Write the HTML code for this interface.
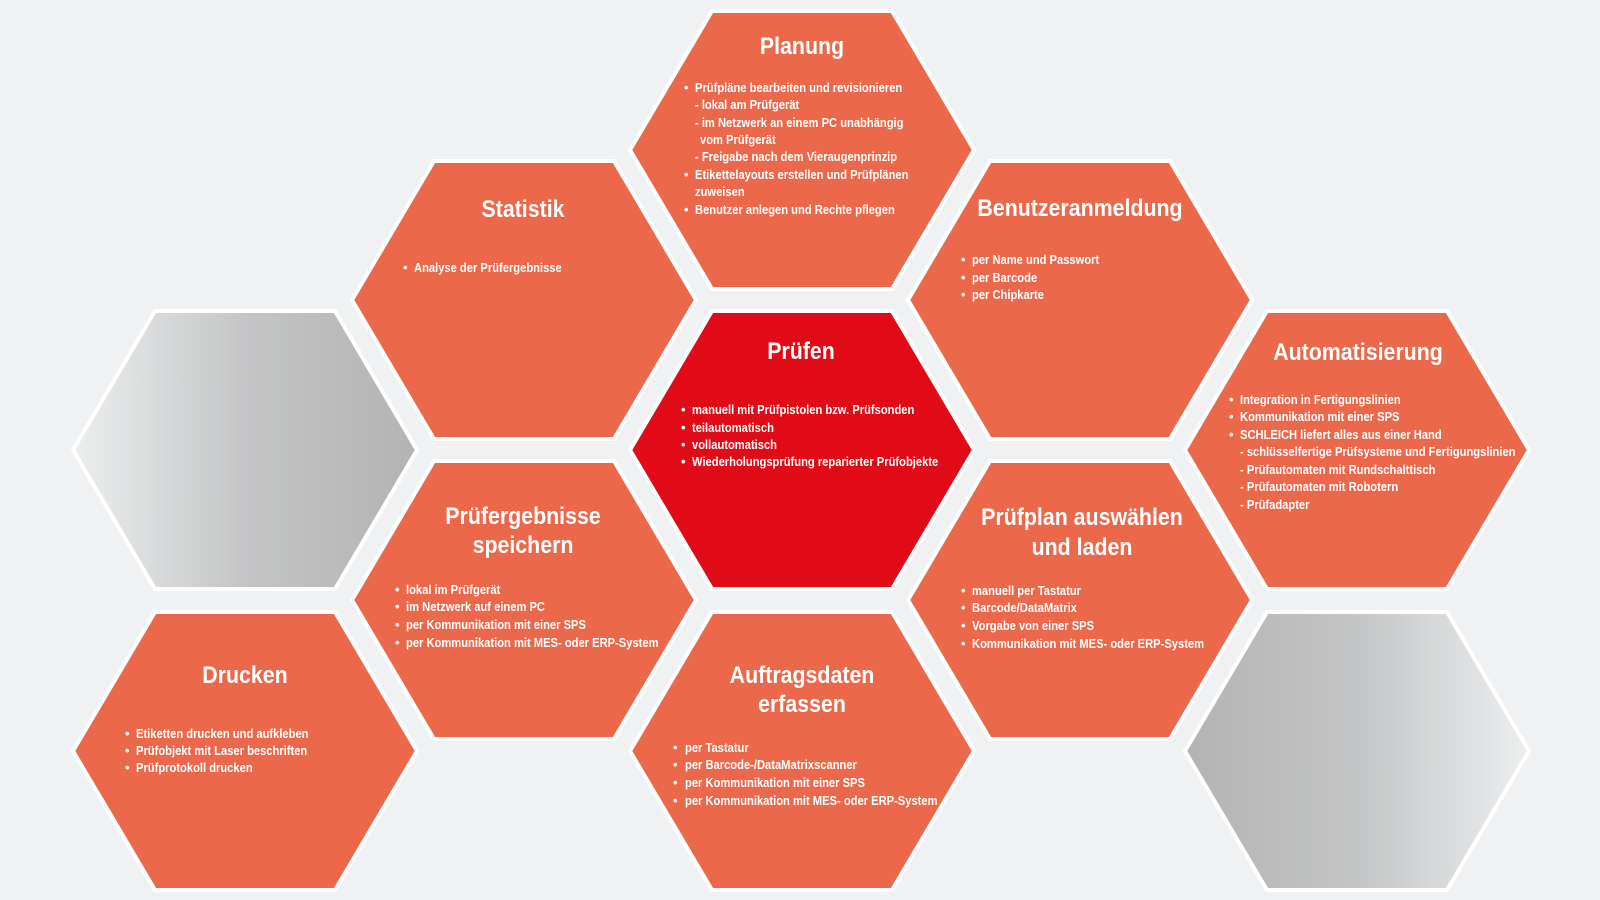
<!DOCTYPE html>
<html><head><meta charset="utf-8"><style>
html,body{margin:0;padding:0;background:#eff1f3;}
svg{display:block}
.t{font-family:"Liberation Sans Narrow","Liberation Sans",sans-serif;font-weight:bold;font-size:24px;fill:#fff;text-anchor:middle}
.b{font-family:"Liberation Sans Narrow","Liberation Sans",sans-serif;font-size:13px;fill:#fff;font-weight:bold}
</style></head><body>
<svg width="1600" height="900" viewBox="0 0 1600 900" xmlns="http://www.w3.org/2000/svg">
<defs>
<linearGradient id="gl" x1="0" x2="1" y1="0" y2="0"><stop offset="0" stop-color="#eceeef"/><stop offset="0.5" stop-color="#c4c5c6"/><stop offset="1" stop-color="#b3b3b3"/></linearGradient>
<linearGradient id="gr" x1="0" x2="1" y1="0" y2="0"><stop offset="0" stop-color="#b3b3b3"/><stop offset="0.5" stop-color="#c4c5c6"/><stop offset="1" stop-color="#eceeef"/></linearGradient>
<polygon id="h" points="-172,0 -90,-139 90,-139 172,0 90,139 -90,139"/>
</defs>
<rect width="1600" height="900" fill="#eff1f3"/>
<g stroke="#ffffff" stroke-width="4" stroke-linejoin="miter">
<use href="#h" x="802" y="150" fill="#ec684b"/>
<use href="#h" x="524" y="300" fill="#ec684b"/>
<use href="#h" x="1080" y="300" fill="#ec684b"/>
<use href="#h" x="245" y="450" fill="url(#gl)"/>
<use href="#h" x="802" y="450" fill="#e10a17"/>
<use href="#h" x="1357" y="450" fill="#ec684b"/>
<use href="#h" x="524" y="600" fill="#ec684b"/>
<use href="#h" x="1080" y="600" fill="#ec684b"/>
<use href="#h" x="245" y="751" fill="#ec684b"/>
<use href="#h" x="802" y="751" fill="#ec684b"/>
<use href="#h" x="1357" y="751" fill="url(#gr)"/>
</g>
<g stroke="none">
<g transform="translate(802,54) scale(.89,1)"><text class="t">Planung</text></g>
<text class="b" x="684" y="92">•</text><g transform="translate(695,92) scale(.86,1)"><text class="b">Prüfpläne bearbeiten und revisionieren</text></g>
<g transform="translate(695,109) scale(.86,1)"><text class="b">- lokal am Prüfgerät</text></g>
<g transform="translate(695,127) scale(.86,1)"><text class="b">- im Netzwerk an einem PC unabhängig</text></g>
<g transform="translate(700,144) scale(.86,1)"><text class="b">vom Prüfgerät</text></g>
<g transform="translate(695,161) scale(.86,1)"><text class="b">- Freigabe nach dem Vieraugenprinzip</text></g>
<text class="b" x="684" y="179">•</text><g transform="translate(695,179) scale(.86,1)"><text class="b">Etikettelayouts erstellen und Prüfplänen</text></g>
<g transform="translate(695,196) scale(.86,1)"><text class="b">zuweisen</text></g>
<text class="b" x="684" y="214">•</text><g transform="translate(695,214) scale(.86,1)"><text class="b">Benutzer anlegen und Rechte pflegen</text></g>

<g transform="translate(523,217) scale(.89,1)"><text class="t">Statistik</text></g>
<text class="b" x="403" y="272">•</text><g transform="translate(414,272) scale(.86,1)"><text class="b">Analyse der Prüfergebnisse</text></g>

<g transform="translate(1080,216) scale(.89,1)"><text class="t">Benutzeranmeldung</text></g>
<text class="b" x="961" y="264">•</text><g transform="translate(972,264) scale(.86,1)"><text class="b">per Name und Passwort</text></g>
<text class="b" x="961" y="282">•</text><g transform="translate(972,282) scale(.86,1)"><text class="b">per Barcode</text></g>
<text class="b" x="961" y="299">•</text><g transform="translate(972,299) scale(.86,1)"><text class="b">per Chipkarte</text></g>

<g transform="translate(801,359) scale(.89,1)"><text class="t">Prüfen</text></g>
<text class="b" x="681" y="414">•</text><g transform="translate(692,414) scale(.86,1)"><text class="b">manuell mit Prüfpistolen bzw. Prüfsonden</text></g>
<text class="b" x="681" y="432">•</text><g transform="translate(692,432) scale(.86,1)"><text class="b">teilautomatisch</text></g>
<text class="b" x="681" y="449">•</text><g transform="translate(692,449) scale(.86,1)"><text class="b">vollautomatisch</text></g>
<text class="b" x="681" y="466">•</text><g transform="translate(692,466) scale(.86,1)"><text class="b">Wiederholungsprüfung reparierter Prüfobjekte</text></g>

<g transform="translate(1358,360) scale(.89,1)"><text class="t">Automatisierung</text></g>
<text class="b" x="1229" y="404">•</text><g transform="translate(1240,404) scale(.86,1)"><text class="b">Integration in Fertigungslinien</text></g>
<text class="b" x="1229" y="421">•</text><g transform="translate(1240,421) scale(.86,1)"><text class="b">Kommunikation mit einer SPS</text></g>
<text class="b" x="1229" y="439">•</text><g transform="translate(1240,439) scale(.86,1)"><text class="b">SCHLEICH liefert alles aus einer Hand</text></g>
<g transform="translate(1240,456) scale(.86,1)"><text class="b">- schlüsselfertige Prüfsysteme und Fertigungslinien</text></g>
<g transform="translate(1240,474) scale(.86,1)"><text class="b">- Prüfautomaten mit Rundschalttisch</text></g>
<g transform="translate(1240,491) scale(.86,1)"><text class="b">- Prüfautomaten mit Robotern</text></g>
<g transform="translate(1240,509) scale(.86,1)"><text class="b">- Prüfadapter</text></g>

<g transform="translate(523,524) scale(.89,1)"><text class="t">Prüfergebnisse</text></g>
<g transform="translate(523,553) scale(.89,1)"><text class="t">speichern</text></g>
<text class="b" x="395" y="594">•</text><g transform="translate(406,594) scale(.86,1)"><text class="b">lokal im Prüfgerät</text></g>
<text class="b" x="395" y="611">•</text><g transform="translate(406,611) scale(.86,1)"><text class="b">im Netzwerk auf einem PC</text></g>
<text class="b" x="395" y="629">•</text><g transform="translate(406,629) scale(.86,1)"><text class="b">per Kommunikation mit einer SPS</text></g>
<text class="b" x="395" y="647">•</text><g transform="translate(406,647) scale(.86,1)"><text class="b">per Kommunikation mit MES- oder ERP-System</text></g>

<g transform="translate(1082,525) scale(.89,1)"><text class="t">Prüfplan auswählen</text></g>
<g transform="translate(1082,555) scale(.89,1)"><text class="t">und laden</text></g>
<text class="b" x="961" y="595">•</text><g transform="translate(972,595) scale(.86,1)"><text class="b">manuell per Tastatur</text></g>
<text class="b" x="961" y="612">•</text><g transform="translate(972,612) scale(.86,1)"><text class="b">Barcode/DataMatrix</text></g>
<text class="b" x="961" y="630">•</text><g transform="translate(972,630) scale(.86,1)"><text class="b">Vorgabe von einer SPS</text></g>
<text class="b" x="961" y="648">•</text><g transform="translate(972,648) scale(.86,1)"><text class="b">Kommunikation mit MES- oder ERP-System</text></g>

<g transform="translate(245,683) scale(.89,1)"><text class="t">Drucken</text></g>
<text class="b" x="125" y="738">•</text><g transform="translate(136,738) scale(.86,1)"><text class="b">Etiketten drucken und aufkleben</text></g>
<text class="b" x="125" y="755">•</text><g transform="translate(136,755) scale(.86,1)"><text class="b">Prüfobjekt mit Laser beschriften</text></g>
<text class="b" x="125" y="772">•</text><g transform="translate(136,772) scale(.86,1)"><text class="b">Prüfprotokoll drucken</text></g>

<g transform="translate(802,683) scale(.89,1)"><text class="t">Auftragsdaten</text></g>
<g transform="translate(802,712) scale(.89,1)"><text class="t">erfassen</text></g>
<text class="b" x="673" y="752">•</text><g transform="translate(685,752) scale(.86,1)"><text class="b">per Tastatur</text></g>
<text class="b" x="673" y="769">•</text><g transform="translate(685,769) scale(.86,1)"><text class="b">per Barcode-/DataMatrixscanner</text></g>
<text class="b" x="673" y="787">•</text><g transform="translate(685,787) scale(.86,1)"><text class="b">per Kommunikation mit einer SPS</text></g>
<text class="b" x="673" y="805">•</text><g transform="translate(685,805) scale(.86,1)"><text class="b">per Kommunikation mit MES- oder ERP-System</text></g>
</g>
</svg>
</body></html>
